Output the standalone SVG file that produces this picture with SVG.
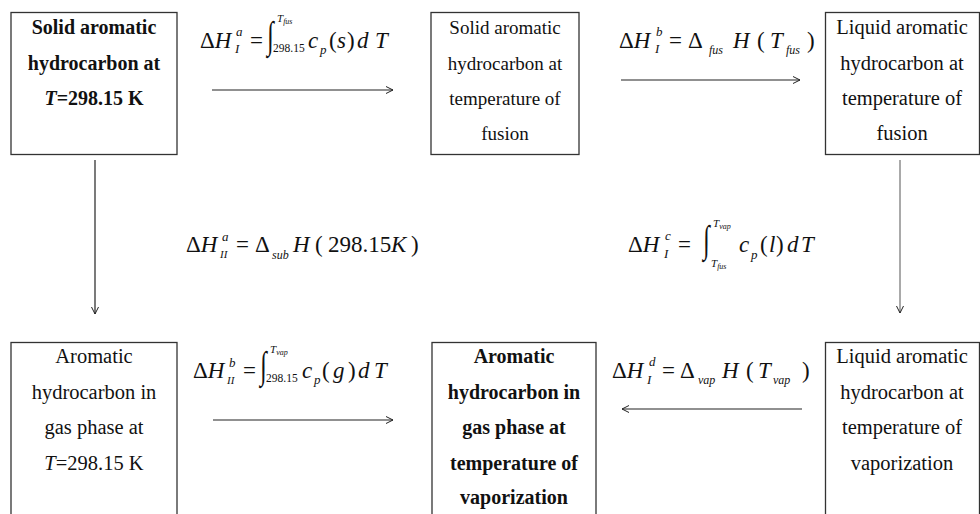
<svg xmlns="http://www.w3.org/2000/svg" width="980" height="514" viewBox="0 0 980 514">
<defs>
<marker id="ah" markerWidth="10" markerHeight="10" refX="8" refY="5" orient="auto" markerUnits="userSpaceOnUse">
<path d="M1,1.5 L8,5 L1,8.5" fill="none" stroke="#222" stroke-width="1"/>
</marker>
</defs>
<style>
text{font-family:'Liberation Serif','DejaVu Serif',serif;fill:#111}
.box{fill:#fff;stroke:#333;stroke-width:1.3}
.t{font-size:20.5px;text-anchor:middle}
.t2{font-size:19px}
.b{font-weight:bold;font-size:20px}
.m text{font-size:23px}
.m .i,.i{font-style:italic}
.m .s{font-size:13px}
.m .u{font-size:12px}
.m .uu{font-size:11px}
.xs{font-size:8px}
.m .int{font-size:24px}
.m .lim{font-size:11.5px}
.c{stroke:#222;stroke-width:1.2;fill:none;marker-end:url(#ah)}
</style>
<rect width="980" height="514" fill="#fff"/>

<g id="connectors">
<line class="c" x1="212" y1="90" x2="393" y2="90"/>
<line class="c" x1="621" y1="80" x2="800" y2="80"/>
<line class="c" x1="95" y1="160" x2="95" y2="314"/>
<line class="c" x1="900" y1="160" x2="900" y2="313" style="stroke:#555;stroke-width:1"/>
<line class="c" x1="213" y1="420" x2="393" y2="420"/>
<line class="c" x1="802" y1="409" x2="622" y2="409"/>
</g>

<g id="n1">
<rect class="box" x="11" y="12.5" width="166" height="142"/>
<text class="t b" x="94" y="34">Solid aromatic</text>
<text class="t b" x="94" y="70">hydrocarbon at</text>
<text class="t b" x="94" y="105"><tspan class="i">T</tspan>=298.15 K</text>
</g>
<g id="n2">
<rect class="box" x="431" y="12.5" width="148" height="142"/>
<text class="t t2" x="505" y="33.5">Solid aromatic</text>
<text class="t t2" x="505" y="69.5">hydrocarbon at</text>
<text class="t t2" x="505" y="104.5">temperature of</text>
<text class="t t2" x="505" y="139.5">fusion</text>
</g>
<g id="n3">
<rect class="box" x="825.5" y="12.5" width="154" height="142"/>
<text class="t" x="902" y="34">Liquid aromatic</text>
<text class="t" x="902" y="70">hydrocarbon at</text>
<text class="t" x="902" y="105">temperature of</text>
<text class="t" x="902" y="140">fusion</text>
</g>
<g id="n4">
<rect class="box" x="11" y="342.5" width="166" height="180"/>
<text class="t" x="94" y="363">Aromatic</text>
<text class="t" x="94" y="399">hydrocarbon in</text>
<text class="t" x="94" y="434">gas phase at</text>
<text class="t" x="94" y="470"><tspan class="i">T</tspan>=298.15 K</text>
</g>
<g id="n5">
<rect class="box" x="432" y="342.5" width="164" height="180"/>
<text class="t b" x="514" y="363">Aromatic</text>
<text class="t b" x="514" y="399">hydrocarbon in</text>
<text class="t b" x="514" y="434">gas phase at</text>
<text class="t b" x="514" y="470">temperature of</text>
<text class="t b" x="514" y="504">vaporization</text>
</g>
<g id="n6">
<rect class="box" x="825.5" y="342.5" width="154" height="180"/>
<text class="t" x="902" y="363">Liquid aromatic</text>
<text class="t" x="902" y="399">hydrocarbon at</text>
<text class="t" x="902" y="434">temperature of</text>
<text class="t" x="902" y="470">vaporization</text>
</g>

<g id="f1" class="m">
<text x="200" y="48">Δ<tspan class="i">H</tspan></text>
<text class="i s" x="236" y="36">a</text>
<text class="i s" x="235" y="53">I</text>
<text x="250" y="48">=</text>
<text class="int" transform="translate(267,48) scale(1,1.6)">∫</text>
<text class="i uu" x="277" y="22">T<tspan class="xs" dy="2">fus</tspan></text>
<text class="lim" x="273" y="52">298.15</text>
<text class="i" x="308" y="48">c</text>
<text class="i s" x="320" y="54">p</text>
<text x="329" y="48">(</text>
<text class="i" x="337" y="48">s</text>
<text x="347" y="48">)</text>
<text class="i" x="357" y="48">d</text>
<text class="i" x="375" y="48">T</text>
</g>

<g id="f2" class="m">
<text x="619" y="48">Δ<tspan class="i">H</tspan></text>
<text class="i s" x="656" y="36">b</text>
<text class="i s" x="655" y="53">I</text>
<text x="669" y="48">=</text>
<text x="688" y="48">Δ</text>
<text class="i u" x="709" y="54">fus</text>
<text class="i" x="733" y="48">H</text>
<text x="757" y="48">(</text>
<text class="i" x="770" y="48">T</text>
<text class="i u" x="786" y="54">fus</text>
<text x="807" y="48">)</text>
</g>

<g id="f3" class="m">
<text x="186" y="252">Δ<tspan class="i">H</tspan></text>
<text class="i s" x="222" y="241">a</text>
<text class="i uu" x="220" y="258">II</text>
<text x="236" y="252">=</text>
<text x="255" y="252">Δ</text>
<text class="i u" x="272" y="259">sub</text>
<text class="i" x="293" y="252">H</text>
<text x="315" y="252">(</text>
<text x="328" y="252">298.15</text>
<text class="i" x="391" y="252">K</text>
<text x="411" y="252">)</text>
</g>

<g id="f4" class="m">
<text x="628" y="252">Δ<tspan class="i">H</tspan></text>
<text class="i s" x="665" y="240">c</text>
<text class="i s" x="664" y="258">I</text>
<text x="678" y="252">=</text>
<text class="int" transform="translate(703,252) scale(1,1.6)">∫</text>
<text class="i uu" x="713" y="227">T<tspan class="xs" dy="2">vap</tspan></text>
<text class="i uu" x="711" y="267">T<tspan class="xs" dy="2">fus</tspan></text>
<text class="i" x="739" y="252">c</text>
<text class="i s" x="751" y="259">p</text>
<text x="760" y="252">(</text>
<text class="i" x="769" y="252">l</text>
<text x="776" y="252">)</text>
<text class="i" x="787" y="252">d</text>
<text class="i" x="801" y="252">T</text>
</g>

<g id="f5" class="m">
<text x="193" y="378">Δ<tspan class="i">H</tspan></text>
<text class="i s" x="229" y="367">b</text>
<text class="i uu" x="227" y="384">II</text>
<text x="243" y="378">=</text>
<text class="int" transform="translate(260,378) scale(1,1.6)">∫</text>
<text class="i uu" x="270" y="353">T<tspan class="xs" dy="2">vap</tspan></text>
<text class="lim" x="266" y="382">298.15</text>
<text class="i" x="302" y="378">c</text>
<text class="i s" x="314" y="384">p</text>
<text x="322" y="378">(</text>
<text class="i" x="333" y="378">g</text>
<text x="348" y="378">)</text>
<text class="i" x="358" y="378">d</text>
<text class="i" x="374" y="378">T</text>
</g>

<g id="f6" class="m">
<text x="612" y="378">Δ<tspan class="i">H</tspan></text>
<text class="i s" x="649" y="366">d</text>
<text class="i s" x="647" y="384">I</text>
<text x="662" y="378">=</text>
<text x="680" y="378">Δ</text>
<text class="i u" x="698" y="384">vap</text>
<text class="i" x="722" y="378">H</text>
<text x="746" y="378">(</text>
<text class="i" x="758" y="378">T</text>
<text class="i u" x="773" y="384">vap</text>
<text x="802" y="378">)</text>
</g>
</svg>
